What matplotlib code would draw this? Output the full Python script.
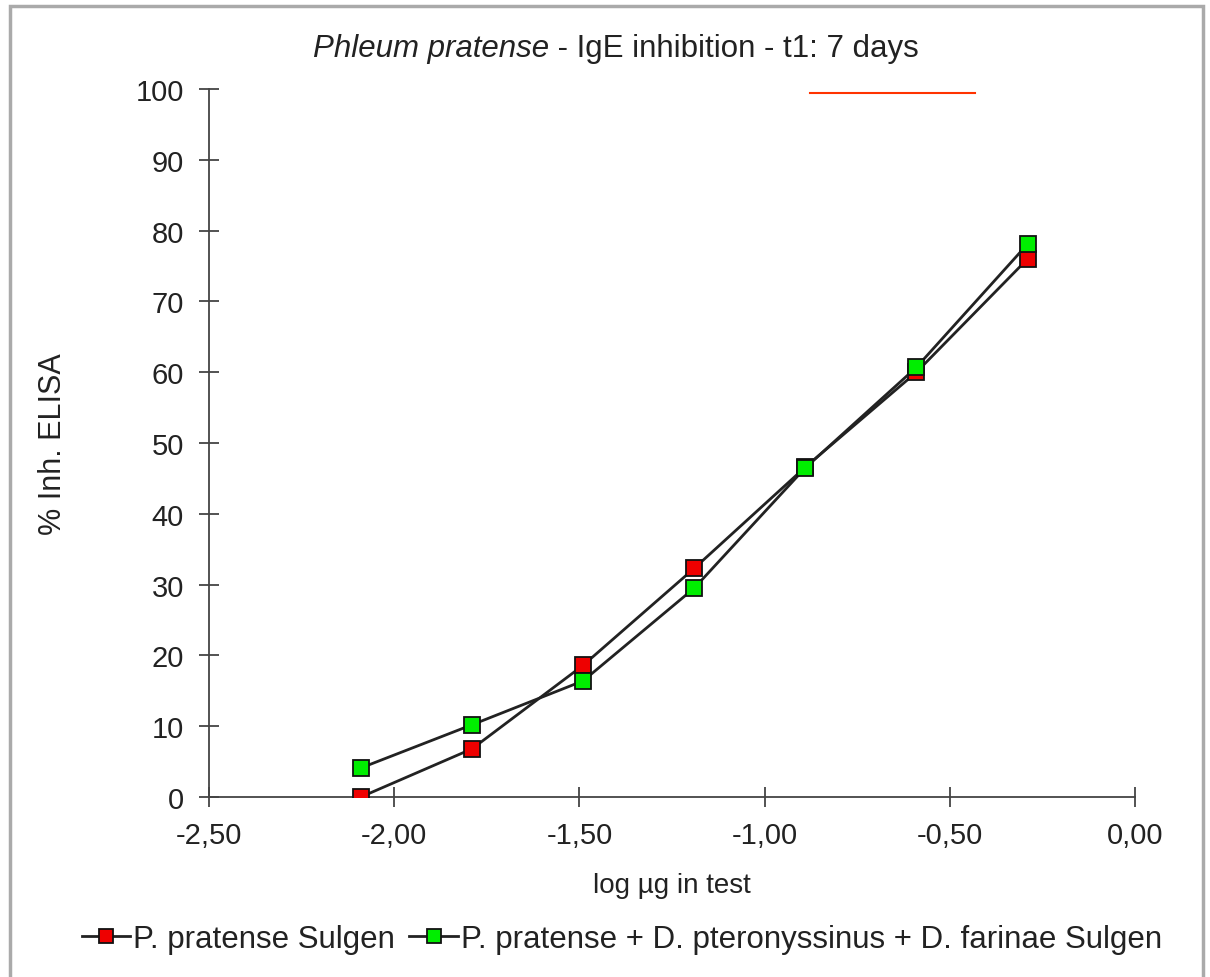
import matplotlib
matplotlib.use("Agg")
import matplotlib.pyplot as plt
from matplotlib.patches import Rectangle
from matplotlib.lines import Line2D

plt.rcParams['font.family'] = ['Liberation Sans', 'DejaVu Sans']

log_dose = [-2.09, -1.79, -1.49, -1.19, -0.89, -0.59, -0.29]
inh_pp = [0.0, 6.8, 18.6, 32.3, 46.6, 60.0, 76.0]
inh_mix = [4.1, 10.2, 16.4, 29.5, 46.5, 60.7, 78.1]
series_labels = ["P. pratense Sulgen",
                 "P. pratense + D. pteronyssinus + D. farinae Sulgen"]
x_ticks = [-2.5, -2.0, -1.5, -1.0, -0.5, 0.0]
y_ticks = list(range(0, 101, 10))
title_italic = "Phleum pratense"
title_rest = " - IgE inhibition - t1: 7 days"

W, H = 1210, 978
fig = plt.figure(figsize=(W / 100, H / 100), dpi=100)
ax = fig.add_axes([209 / W, 1 - 798 / H, (1135 - 209) / W, (798 - 90) / H])

ax.plot(log_dose, inh_pp, color='#222222', lw=2.0, marker='s', ms=11.5,
        mfc='#ee0000', mec='#111111', mew=1.3, label=series_labels[0], zorder=3)
ax.plot(log_dose, inh_mix, color='#222222', lw=2.0, marker='s', ms=11.5,
        mfc='#00ee00', mec='#111111', mew=1.3, label=series_labels[1], zorder=3)

ax.set_xlim(-2.5, 0.0)
ax.set_ylim(0, 100)
ax.set_xticks(x_ticks)
ax.set_xticklabels([f"{v:.2f}".replace('.', ',') for v in x_ticks])
ax.set_yticks(y_ticks)
for s in ['top', 'right']:
    ax.spines[s].set_visible(False)
for s in ['left', 'bottom']:
    ax.spines[s].set_color('#444444')
    ax.spines[s].set_linewidth(1.3)
ax.tick_params(axis='both', direction='inout', length=14, width=1.3,
               color='#444444', labelsize=21, labelcolor='#222222')
ax.tick_params(axis='x', pad=10)
ax.tick_params(axis='y', pad=11)
for lab in ax.get_xticklabels() + ax.get_yticklabels():
    lab.set_clip_on(False)

ax.set_xlabel("log µg in test", fontsize=20, color='#222222')
ax.set_ylabel("% Inh. ELISA", fontsize=22, color='#222222')
ax.xaxis.set_label_coords(0.5, (798 - 886) / 708)
ax.yaxis.set_label_coords((53 - 209) / 926, 0.5)
ax.yaxis.label.set_va('center')
ax.xaxis.label.set_va('center')

# title built from an italic part and a regular part
renderer = fig.canvas.get_renderer()
t1 = fig.text(0, 1 - 49 / H, title_italic, style='italic', fontsize=22.5,
              color='#222222', ha='left', va='center')
t2 = fig.text(0, 1 - 49 / H, title_rest, fontsize=22.5,
              color='#222222', ha='left', va='center')
w1 = t1.get_window_extent(renderer).width
w2 = t2.get_window_extent(renderer).width
x0 = 616 - (w1 + w2) / 2
t1.set_x(x0 / W)
t2.set_x((x0 + w1) / W)

leg = fig.legend(loc='center', bbox_to_anchor=(622 / W, 1 - 940 / H),
                 ncol=2, frameon=False, fontsize=22.5, handlelength=1.55,
                 handletextpad=0.1, columnspacing=0.45, markerscale=0.85)
for t in leg.get_texts():
    t.set_color('#222222')

# stray red line near the top
fig.add_artist(Line2D([810 / W, 975 / W], [1 - 94 / H, 1 - 94 / H],
                      color='#ff3300', lw=1.5))
# outer frame (bottom edge cut off)
fig.add_artist(Rectangle((10 / W, -0.05), (1203 - 10) / W, 1.05 - 7 / H,
                         fill=False, ec='#aaaaaa', lw=2.5,
                         transform=fig.transFigure))

fig.savefig("out.png", dpi=100)
